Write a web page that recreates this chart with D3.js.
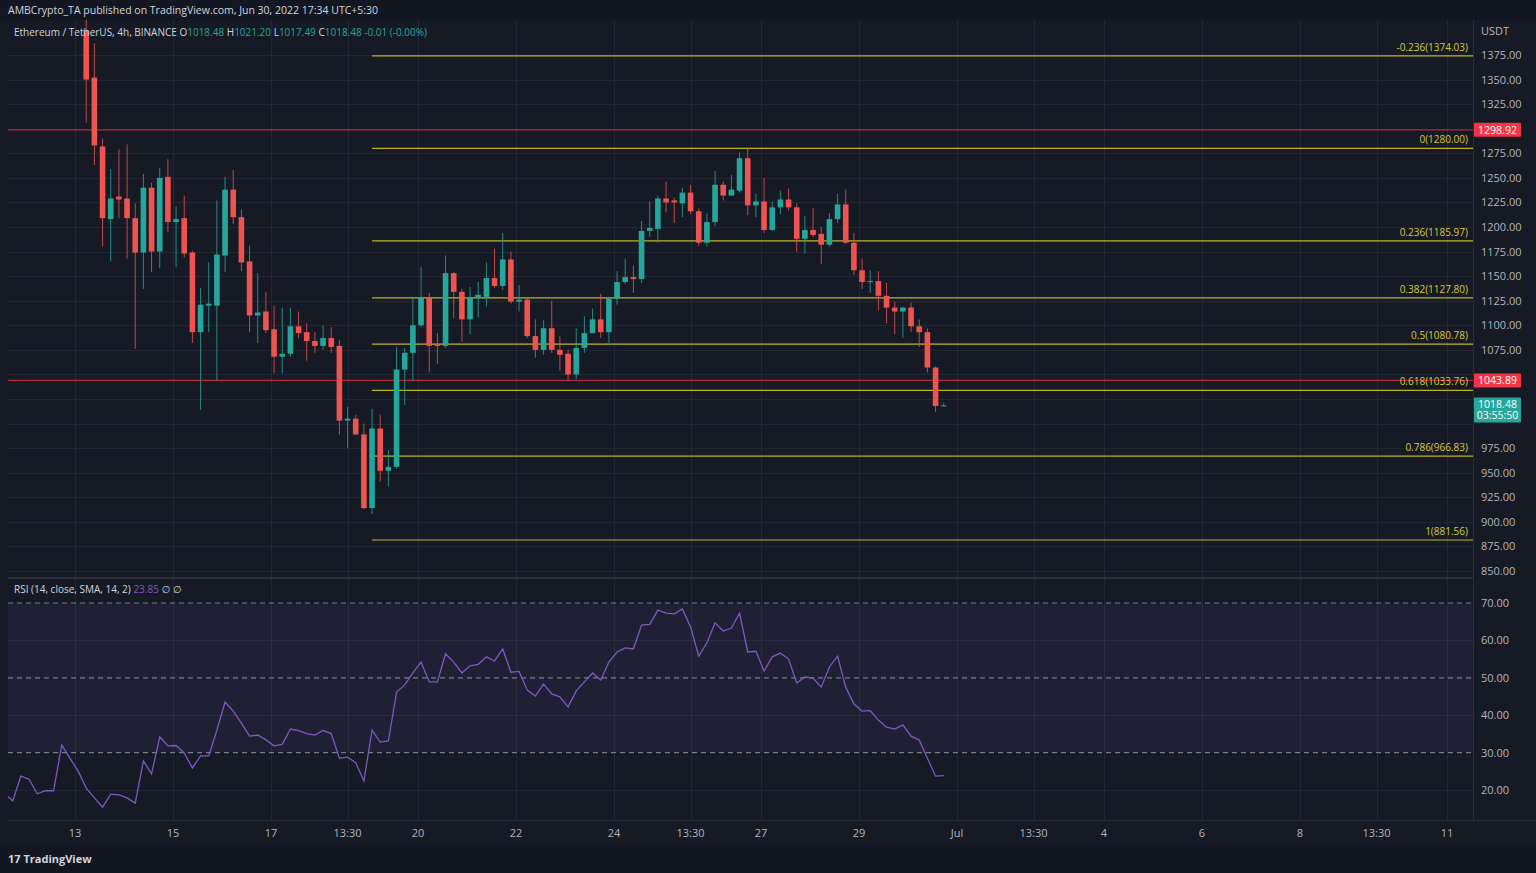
<!DOCTYPE html>
<html>
<head>
<meta charset="utf-8">
<title>ETHUSDT 4h</title>
<script src="https://d3js.org/d3.v7.min.js"></script>
<style>
  body { margin: 0; background: #161a25; }
  svg { display: block; font-family: "Open Sans", "DejaVu Sans", sans-serif; }
  .axis text { fill: #b2b5be; font-size: 11px; }
</style>
</head>
<body>
<svg></svg>
<script>
// candles, 4h, first at Jun 13 05:30 (chart time)
var opens  = [1400,1352,1282,1208,1231,1229,1209,1174,1240,1175,1251,1205,1209,1174,1093,1120,1120,1171,1238,1210,1165,1110,1114,1096,1068,1071,1099,1093,1084,1079,1087,1079,1003,1005,989,914,995,952,956,1055,1072,1100,1128,1081,1079,1153,1134,1106,1128,1129,1148,1140,1167,1124,1126,1089,1075,1097,1075,1071,1050,1077,1092,1106,1093,1127,1144,1149,1147,1196,1198,1229,1227,1224,1235,1216,1184,1205,1243,1232,1237,1270,1222,1226,1197,1220,1228,1220,1188,1197,1193,1182,1208,1223,1184,1156,1144,1145,1130,1118,1114,1118,1099,1093,1057,1018.48];
var highs  = [1420,1387,1290,1259,1279,1284,1224,1254,1245,1260,1269,1221,1232,1176,1138,1164,1227,1251,1258,1218,1181,1153,1134,1120,1118,1118,1114,1102,1093,1100,1098,1085,1017,1009,1000,1015,1009,973,1078,1077,1129,1159,1133,1092,1171,1154,1137,1139,1144,1164,1178,1194,1175,1141,1128,1106,1105,1125,1089,1075,1097,1109,1117,1132,1129,1155,1168,1161,1206,1226,1232,1246,1230,1240,1243,1219,1214,1257,1246,1253,1276,1280,1234,1250,1226,1237,1239,1224,1211,1219,1200,1214,1234,1238,1194,1168,1156,1155,1143,1124,1119,1123,1106,1097,1058,1021.20];
var lows   = [1306,1263,1180,1165,1209,1168,1076,1137,1154,1158,1195,1159,1169,1082,1014,1093,1044,1154,1203,1155,1093,1082,1092,1051,1051,1068,1087,1064,1072,1075,1072,989,975,988,913,908,941,936,954,1019,1043,1098,1052,1061,1077,1107,1083,1091,1108,1119,1138,1136,1122,1114,1087,1067,1070,1072,1054,1043,1045,1072,1092,1087,1082,1121,1142,1133,1143,1190,1184,1215,1204,1210,1213,1181,1180,1201,1227,1232,1235,1212,1210,1194,1196,1213,1217,1175,1173,1190,1162,1180,1204,1183,1151,1137,1133,1115,1102,1091,1087,1093,1078,1052,1012,1017.49];
var closes = [1350,1283,1209,1229,1228,1209,1174,1240,1175,1250,1205,1208,1173,1093,1121,1122,1172,1238,1210,1164,1110,1113,1095,1068,1071,1099,1092,1084,1079,1087,1078,1003,1005,989,914,995,952,956,1055,1072,1100,1128,1079,1079,1153,1134,1106,1128,1131,1148,1140,1167,1124,1126,1089,1075,1097,1075,1070,1050,1077,1092,1106,1093,1127,1144,1149,1147,1196,1199,1229,1225,1225,1235,1216,1184,1205,1243,1232,1238,1270,1222,1226,1197,1220,1228,1220,1188,1197,1192,1182,1208,1223,1184,1156,1144,1145,1130,1118,1114,1118,1099,1093,1057,1018,1018.48];
// RSI(14), first value is 10 candles before the first visible candle
var rsiValues = [19,17.1,23.7,22.9,19.0,19.8,19.8,32.0,28.5,25.1,20.5,17.9,15.4,18.9,18.7,17.9,16.5,27.8,24.3,34.2,31.8,31.9,29.9,25.9,29.1,29.1,36.0,43.5,41.1,37.9,34.4,34.7,33.4,31.8,32.2,36.3,35.9,35.1,34.7,35.9,35.1,28.5,28.8,27.3,22.4,36.0,32.8,33.1,46.2,48.1,51.3,54.2,48.9,48.9,56.4,54.2,51.3,53.2,53.6,55.6,54.5,57.7,51.5,51.7,46.7,45.1,48.3,45.7,44.9,42.2,46.5,48.9,51.3,49.4,54.2,56.9,58.0,57.7,64.1,64.3,68.1,67.3,67.1,68.4,63.6,55.8,59.3,64.7,62.5,63.3,67.3,56.9,57.1,51.8,55.6,56.6,55.0,48.6,50.2,49.9,47.5,52.9,55.8,47.5,43.0,41.1,41.2,38.7,36.8,36.3,37.4,34.4,33.4,28.5,23.7,23.85];
var fibRatios = ["-0.236","0","0.236","0.382","0.5","0.618","0.786","1"];
var fibPrices = [1374.03,1280.00,1185.97,1127.80,1080.78,1033.76,966.83,881.56];
var redLevels = [1298.92,1043.89];
var priceTicks = d3.range(850, 1376, 25);
var rsiTicks = [20,30,40,50,60,70];
var timeTicks = [
  ["2022-06-13T00:00","13"],["2022-06-15T00:00","15"],["2022-06-17T00:00","17"],["2022-06-18T13:30","13:30"],
  ["2022-06-20T00:00","20"],["2022-06-22T00:00","22"],["2022-06-24T00:00","24"],["2022-06-25T13:30","13:30"],
  ["2022-06-27T00:00","27"],["2022-06-29T00:00","29"],["2022-07-01T00:00","Jul"],["2022-07-02T13:30","13:30"],
  ["2022-07-04T00:00","4"],["2022-07-06T00:00","6"],["2022-07-08T00:00","8"],["2022-07-09T13:30","13:30"],
  ["2022-07-11T00:00","11"]];

var W = 1536, H = 873,
  left = 8, right = 1473,
  pTop = 20, pBot = 577, rTop = 579, rBot = 820;

var parse = function (s) { return new Date(s + ":00Z"); };
var t0 = parse("2022-06-13T05:30");
var HOUR = 3600e3;
var candles = opens.map(function (o, i) {
  return { t: new Date(+t0 + i * 4 * HOUR), o: o, h: highs[i], l: lows[i], c: closes[i] };
});

// Jun 13 00:00 sits at x=75, 49px per day
var x = d3.scaleUtc()
  .domain([new Date(+parse("2022-06-13T00:00") - (75 - left) / 49 * 24 * HOUR),
           new Date(+parse("2022-06-13T00:00") + (right - 75) / 49 * 24 * HOUR)])
  .range([left, right]);
var y = d3.scaleLinear().domain([850, 1375]).range([571, 55]);
var yr = d3.scaleLinear().domain([20, 70]).range([790, 603]);

var svg = d3.select("svg").attr("width", W).attr("height", H);
svg.append("rect").attr("width", W).attr("height", H).attr("fill", "#161a25");
svg.append("rect").attr("width", W).attr("height", pTop).attr("fill", "#131722");
svg.append("rect").attr("y", 846).attr("width", W).attr("height", H - 846).attr("fill", "#131722");

svg.append("text").attr("x", 8).attr("y", 14).attr("fill", "#d1d4dc").attr("font-size", 10.5)
  .text("AMBCrypto_TA published on TradingView.com, Jun 30, 2022 17:34 UTC+5:30");

var defs = svg.append("defs");
defs.append("clipPath").attr("id", "pc").append("rect")
  .attr("x", left).attr("y", pTop).attr("width", right - left).attr("height", pBot - pTop);
defs.append("clipPath").attr("id", "rc").append("rect")
  .attr("x", left).attr("y", rTop).attr("width", right - left).attr("height", rBot - rTop);

// grid
var grid = svg.append("g").attr("stroke", "#232733").attr("stroke-width", 1);
timeTicks.forEach(function (d) {
  var xx = Math.round(x(parse(d[0]))) + 0.5;
  grid.append("line").attr("x1", xx).attr("x2", xx).attr("y1", pTop).attr("y2", pBot);
  grid.append("line").attr("x1", xx).attr("x2", xx).attr("y1", rTop).attr("y2", rBot);
});
priceTicks.forEach(function (p) {
  var yy = Math.round(y(p)) + 0.5;
  grid.append("line").attr("x1", left).attr("x2", right).attr("y1", yy).attr("y2", yy);
});
[20, 40, 60].forEach(function (v) {
  var yy = Math.round(yr(v)) + 0.5;
  grid.append("line").attr("x1", left).attr("x2", right).attr("y1", yy).attr("y2", yy);
});

// pane borders
svg.append("line").attr("x1", left).attr("x2", right).attr("y1", pBot + 1).attr("y2", pBot + 1).attr("stroke", "#2a2e39").attr("stroke-width", 2);
svg.append("line").attr("x1", right + 0.5).attr("x2", right + 0.5).attr("y1", pTop).attr("y2", rBot).attr("stroke", "#2a2e39");
svg.append("line").attr("x1", left).attr("x2", W).attr("y1", rBot + 0.5).attr("y2", rBot + 0.5).attr("stroke", "#2a2e39");

// price pane
var pg = svg.append("g").attr("clip-path", "url(#pc)");
redLevels.forEach(function (p) {
  pg.append("line").attr("x1", left).attr("x2", right).attr("y1", y(p)).attr("y2", y(p))
    .attr("stroke", "#b22833").attr("stroke-width", 1.3);
});
var fibX = x(candles[35].t);
fibPrices.forEach(function (p, i) {
  pg.append("line").attr("x1", fibX).attr("x2", right).attr("y1", y(p)).attr("y2", y(p))
    .attr("stroke", "#c2b22b").attr("stroke-width", 1.2);
  pg.append("text").attr("x", right - 5).attr("y", y(p) - 5).attr("text-anchor", "end")
    .attr("fill", "#d9c83a").attr("font-size", 10).text(fibRatios[i] + "(" + p.toFixed(2) + ")");
});

var bw = 5.6;
var cg = pg.selectAll(".candle").data(candles).enter().append("g")
  .attr("fill", function (d) { return d.c >= d.o ? "#26a69a" : "#ef5350"; })
  .attr("stroke", function (d) { return d.c >= d.o ? "#26a69a" : "#ef5350"; });
cg.append("line")
  .attr("x1", function (d) { return x(d.t); }).attr("x2", function (d) { return x(d.t); })
  .attr("y1", function (d) { return y(d.h); }).attr("y2", function (d) { return y(d.l); })
  .attr("stroke-width", 1).attr("stroke-opacity", 0.8);
cg.append("rect")
  .attr("x", function (d) { return x(d.t) - bw / 2; })
  .attr("y", function (d) { return y(Math.max(d.o, d.c)); })
  .attr("width", bw)
  .attr("height", function (d) { return Math.max(1, Math.abs(y(d.o) - y(d.c))); })
  .attr("stroke", "none");

// legend
var lg = svg.append("text").attr("x", 14).attr("y", 36).attr("font-size", 10).attr("fill", "#d1d4dc");
lg.append("tspan").text("Ethereum / TetherUS, 4h, BINANCE  ");
[["O", "1018.48"], ["H", "1021.20"], ["L", "1017.49"], ["C", "1018.48"]].forEach(function (d) {
  lg.append("tspan").attr("fill", "#d1d4dc").text(d[0]);
  lg.append("tspan").attr("fill", "#26a69a").text(d[1] + " ");
});
lg.append("tspan").attr("fill", "#26a69a").text("-0.01 (-0.00%)");

// price axis (labels hidden behind the level boxes are skipped)
var last = candles[candles.length - 1];
var boxYs = redLevels.map(function (p) { return y(p); }).concat([y(last.c) + 4]);
var pa = svg.append("g").attr("class", "axis");
pa.append("text").attr("x", 1481).attr("y", 35).text("USDT");
priceTicks.forEach(function (p) {
  var yy = y(p);
  var hidden = boxYs.some(function (b, i) { return Math.abs(b - yy) < (i === 2 ? 17 : 11); });
  if (!hidden) pa.append("text").attr("x", 1481).attr("y", yy + 4).text(p.toFixed(2));
});
redLevels.forEach(function (p) {
  svg.append("rect").attr("x", 1474).attr("y", y(p) - 7).attr("width", 47).attr("height", 14).attr("fill", "#f23645").attr("rx", 1);
  svg.append("text").attr("x", 1497.5).attr("y", y(p) + 4).attr("text-anchor", "middle").attr("fill", "#fff").attr("font-size", 10.5).text(p.toFixed(2));
});
svg.append("rect").attr("x", 1474).attr("y", y(last.c) - 8).attr("width", 47).attr("height", 25).attr("fill", "#26a69a").attr("rx", 1);
svg.append("text").attr("x", 1497.5).attr("y", y(last.c) + 3).attr("text-anchor", "middle").attr("fill", "#fff").attr("font-size", 10.5).text(last.c.toFixed(2));
svg.append("text").attr("x", 1497.5).attr("y", y(last.c) + 14).attr("text-anchor", "middle").attr("fill", "#fff").attr("font-size", 10.5).text("03:55:50");

// RSI pane
var rg = svg.append("g").attr("clip-path", "url(#rc)");
rg.append("rect").attr("x", left).attr("width", right - left)
  .attr("y", yr(70)).attr("height", yr(30) - yr(70)).attr("fill", "#7e57c2").attr("fill-opacity", 0.1);
[70, 50, 30].forEach(function (v) {
  rg.append("line").attr("x1", left).attr("x2", right).attr("y1", yr(v)).attr("y2", yr(v))
    .attr("stroke", "#787b86").attr("stroke-dasharray", "5,4").attr("stroke-width", 1.2);
});
var rsiPts = rsiValues.map(function (v, i) { return { t: new Date(+t0 + (i - 10) * 4 * HOUR), v: v }; });
rg.append("path").datum(rsiPts)
  .attr("fill", "none").attr("stroke", "#7e57c2").attr("stroke-width", 1.3)
  .attr("d", d3.line().x(function (d) { return x(d.t); }).y(function (d) { return yr(d.v); }));

var rl = svg.append("text").attr("x", 14).attr("y", 593).attr("font-size", 10).attr("fill", "#d1d4dc");
rl.append("tspan").text("RSI (14, close, SMA, 14, 2) ");
rl.append("tspan").attr("fill", "#7e57c2").text("23.85 ");
rl.append("tspan").attr("fill", "#d1d4dc").text("∅ ∅");

var ra = svg.append("g").attr("class", "axis");
rsiTicks.forEach(function (v) {
  ra.append("text").attr("x", 1481).attr("y", yr(v) + 4).text(v.toFixed(2));
});

// time axis
var ta = svg.append("g").attr("class", "axis");
timeTicks.forEach(function (d) {
  ta.append("text").attr("x", x(parse(d[0]))).attr("y", 837).attr("text-anchor", "middle").text(d[1]);
});

// footer logo
svg.append("text").attr("x", 8).attr("y", 863).attr("fill", "#d1d4dc").attr("font-size", 11)
  .attr("font-weight", 700).text("17 TradingView");
</script>
</body>
</html>
